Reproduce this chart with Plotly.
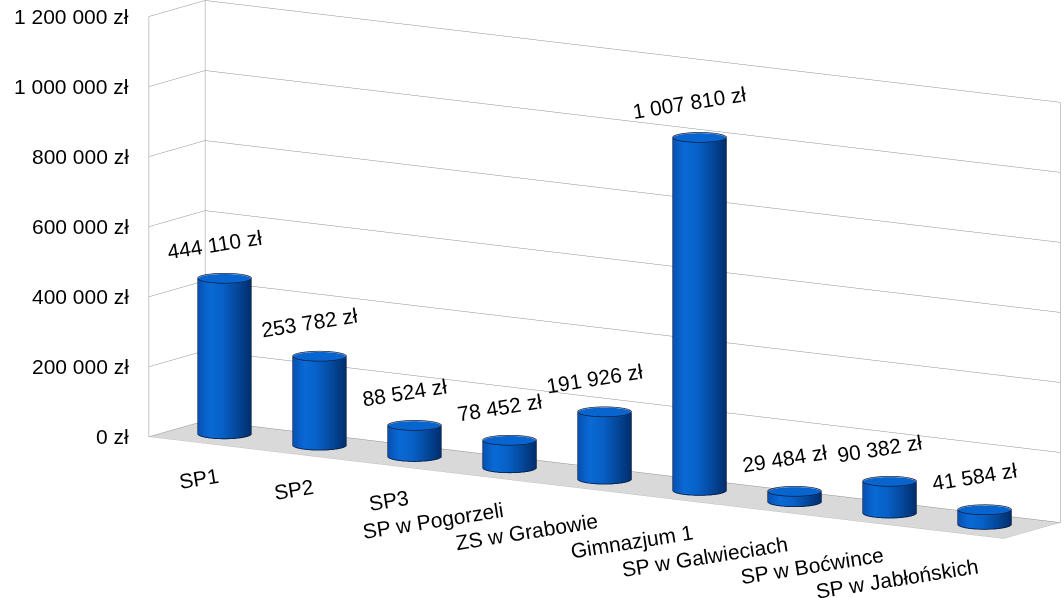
import numpy as np
import plotly.graph_objects as go

# Budget per school (PLN)
categories = ["SP1", "SP2", "SP3", "SP w Pogorzeli", "ZS w Grabowie",
              "Gimnazjum 1", "SP w Galwieciach", "SP w Boćwince", "SP w Jabłońskich"]
values = [444110, 253782, 88524, 78452, 191926, 1007810, 29484, 90382, 41584]

z_ticks = [0, 200000, 400000, 600000, 800000, 1000000, 1200000]
z_tick_labels = ["0 zł", "200 000 zł", "400 000 zł", "600 000 zł",
                 "800 000 zł", "1 000 000 zł", "1 200 000 zł"]

FONT = "Liberation Sans, Arial, sans-serif"

X_RANGE = [-0.5, len(categories) - 0.5]
Y_RANGE = [0.0, 1.0]
Z_RANGE = [0, 1200000]
ASPECT = dict(x=3.405, y=0.347, z=1.43)

# viewing direction (scene-normalised units): right, front, slightly above
VIEW = np.array([0.55, -1.0, 0.18])
EYE_SCALE = 3.0
CENTER = dict(x=-0.2075, y=-0.126, z=-0.1015)

# cylinder radius in category units; depth radius keeps the base round
RX = 0.235
nx = ASPECT["x"] / (X_RANGE[1] - X_RANGE[0])
ny = ASPECT["y"] / (Y_RANGE[1] - Y_RANGE[0])
RY = RX * nx / ny
YC = 0.5 * (Y_RANGE[0] + Y_RANGE[1])

a = VIEW[0] / -VIEW[1]
theta_right = np.arctan2(a, 1.0)          # silhouette on the right
theta_left = theta_right + np.pi           # silhouette on the left

side_scale = [[0.0, "#0650b0"], [0.25, "#0a6ad6"], [0.5, "#0760c6"],
              [0.75, "#044a9e"], [1.0, "#022f6e"]]
top_scale = [[0.0, "#0865cf"], [1.0, "#0865cf"]]
flat_light = dict(ambient=1.0, diffuse=0.0, specular=0.0, roughness=1.0, fresnel=0.0)

fig = go.Figure()

th = np.linspace(0, 2 * np.pi, 97)
hz = np.array([0.0, 1.0])
eps = (Z_RANGE[1] - Z_RANGE[0]) * 0.0015

ox, oy, oz = [], [], []
for i, v in enumerate(values):
    TH, HZ = np.meshgrid(th, hz)
    xs = i + RX * np.cos(TH)
    ys = YC + RY * np.sin(TH)
    zs = HZ * v
    shade = (np.cos(TH) + a * np.sin(TH)) / np.sqrt(1 + a * a)
    fig.add_trace(go.Surface(x=xs, y=ys, z=zs, surfacecolor=shade,
                             colorscale=side_scale, cmin=-1, cmax=1,
                             showscale=False, lighting=flat_light,
                             hoverinfo="skip"))
    rr = np.array([0.0, 1.0])
    TH2, RR = np.meshgrid(th, rr)
    fig.add_trace(go.Surface(x=i + RR * RX * np.cos(TH2),
                             y=YC + RR * RY * np.sin(TH2),
                             z=np.full(TH2.shape, float(v)),
                             surfacecolor=np.zeros(TH2.shape),
                             colorscale=top_scale, cmin=0, cmax=1,
                             showscale=False, lighting=flat_light,
                             hoverinfo="skip"))
    # outlines: top rim, front half of the base, two silhouettes
    k = 1.01
    ox += list(i + k * RX * np.cos(th)) + [None]
    oy += list(YC + k * RY * np.sin(th)) + [None]
    oz += [v + eps] * len(th) + [None]
    arc = np.linspace(theta_left, theta_right + 2 * np.pi, 60)
    ox += list(i + k * RX * np.cos(arc)) + [None]
    oy += list(YC + k * RY * np.sin(arc)) + [None]
    oz += [eps] * len(arc) + [None]
    for t in (theta_left, theta_right):
        ox += [i + k * RX * np.cos(t), i + k * RX * np.cos(t), None]
        oy += [YC + k * RY * np.sin(t), YC + k * RY * np.sin(t), None]
        oz += [0, v, None]

fig.add_trace(go.Scatter3d(x=ox, y=oy, z=oz, mode="lines",
                           line=dict(color="#0d1c3a", width=1.5),
                           hoverinfo="skip", showlegend=False))

label_font = dict(family=FONT, size=21, color="black")
annotations = []
for i, (c, v) in enumerate(zip(categories, values)):
    label = f"{v:,}".replace(",", " ") + " zł"
    annotations.append(dict(x=i, y=YC, z=v, text=label, showarrow=False,
                            textangle=-9, xanchor="center", yanchor="bottom",
                            xshift=-10, yshift=13, font=label_font))
    annotations.append(dict(x=i, y=Y_RANGE[0], z=0, text=c, showarrow=False,
                            textangle=-9, xanchor="right", yanchor="top",
                            xshift=26, yshift=-19, font=label_font))
# value axis labels along the front edge of the side wall
for tv, tt in zip(z_ticks, z_tick_labels):
    annotations.append(dict(x=X_RANGE[0], y=Y_RANGE[0], z=tv, text=tt,
                            showarrow=False, xanchor="right", yanchor="middle",
                            xshift=-18, yshift=0, font=label_font))

grid = "#8f8f8f"
axis_common = dict(title=dict(text=""), showspikes=False, zeroline=False,
                   showline=False, ticks="", gridcolor=grid, gridwidth=1,
                   showticklabels=False)

fig.update_layout(
    width=1064, height=598,
    margin=dict(l=0, r=0, t=0, b=0),
    paper_bgcolor="white",
    showlegend=False,
    font=dict(family=FONT, size=21, color="black"),
    scene=dict(
        domain=dict(x=[0, 1], y=[0, 1]),
        aspectmode="manual",
        aspectratio=ASPECT,
        bgcolor="white",
        xaxis=dict(range=X_RANGE, tickvals=X_RANGE, showbackground=False,
                   **axis_common),
        yaxis=dict(range=Y_RANGE, tickvals=Y_RANGE, showbackground=False,
                   **axis_common),
        zaxis=dict(range=Z_RANGE, tickvals=z_ticks, showbackground=True,
                   backgroundcolor="#d9d9d9", **axis_common),
        camera=dict(eye=dict(x=VIEW[0] * EYE_SCALE, y=VIEW[1] * EYE_SCALE,
                             z=VIEW[2] * EYE_SCALE),
                    up=dict(x=0, y=0, z=1), center=CENTER,
                    projection=dict(type="orthographic")),
        annotations=annotations,
    ),
)

fig.write_html("out.html", config={"displayModeBar": False})
